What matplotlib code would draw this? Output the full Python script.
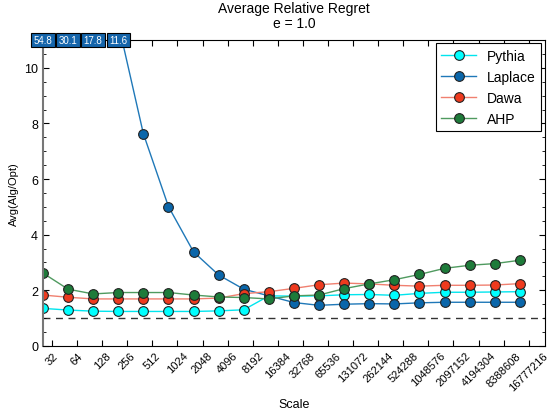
import numpy as np
import matplotlib
matplotlib.use("Agg")
import matplotlib.pyplot as plt
from matplotlib.ticker import FixedLocator, NullLocator, MultipleLocator

plt.rcParams['font.family'] = ['Liberation Sans', 'DejaVu Sans']

# data: 20 scales, points at 25 * 2^k
scale_points = [25 * 2 ** k for k in range(20)]
tick_values = [2 ** k for k in range(5, 25)]
tick_labels = [str(v) for v in tick_values]

pythia = [1.35, 1.29, 1.25, 1.24, 1.24, 1.24, 1.24, 1.26, 1.30, 1.80,
          1.79, 1.80, 1.84, 1.85, 1.82, 1.89, 1.93, 1.93, 1.94, 1.95]
laplace = [54.8, 30.1, 17.8, 11.6, 7.63, 5.01, 3.38, 2.55, 2.04, 1.80,
           1.56, 1.46, 1.50, 1.52, 1.51, 1.55, 1.57, 1.57, 1.57, 1.57]
dawa = [1.83, 1.75, 1.69, 1.69, 1.69, 1.69, 1.69, 1.72, 1.88, 1.95,
        2.07, 2.20, 2.26, 2.23, 2.18, 2.15, 2.18, 2.18, 2.19, 2.24]
ahp = [2.62, 2.04, 1.87, 1.92, 1.92, 1.92, 1.83, 1.76, 1.74, 1.69,
       1.80, 1.83, 2.06, 2.23, 2.38, 2.57, 2.79, 2.90, 2.96, 3.08]

series = [
    ("Pythia", pythia, "#00E5EE", "#00FFFF"),
    ("Laplace", laplace, "#1F78B8", "#0A66AA"),
    ("Dawa", dawa, "#F08070", "#EE3A1E"),
    ("AHP", ahp, "#4F9A5F", "#1E7B3A"),
]

YMAX = 11

fig = plt.figure(figsize=(5.51, 4.14), dpi=100)
ax = fig.add_axes([0.078, 0.162, 0.911, 0.739])

for name, vals, lc, fc in series:
    ax.plot(scale_points, vals, '-', color=lc, lw=1.0, marker='o', ms=7,
            mfc=fc, mec='#222222', mew=0.8, label=name, clip_on=True)

ax.axhline(1.0, color='#333333', ls=(0, (5, 4)), lw=1.0, zorder=1)

# clipped values shown as boxes at the top
for x, v in zip(scale_points, laplace):
    if v > YMAX:
        ax.text(x, YMAX, "%.1f" % v, ha='center', va='center', color='white',
                fontsize=7, zorder=10, clip_on=False,
                bbox=dict(boxstyle='square,pad=0.25', fc='#1565AB', ec='black', lw=0.8))

ax.set_xscale('log')
ax.set_xlim(25, 25 * 2 ** 20)
ax.set_ylim(0, YMAX)
ax.xaxis.set_major_locator(FixedLocator(tick_values))
ax.xaxis.set_minor_locator(NullLocator())
ax.set_xticklabels(tick_labels, rotation=45, ha='center', va='top', fontsize=8)
ax.yaxis.set_major_locator(MultipleLocator(2))
ax.yaxis.set_minor_locator(MultipleLocator(0.5))
ax.tick_params(axis='both', which='both', direction='in', top=True, right=True)
ax.tick_params(axis='x', pad=3)
ax.tick_params(axis='y', labelsize=9)
ax.tick_params(which='major', length=4)
ax.tick_params(which='minor', length=2)
ax.spines['left'].set_color('#777777')
ax.spines['left'].set_linewidth(1.5)

ax.set_xlabel("Scale", fontsize=9, va='center')
ax.xaxis.set_label_coords(0.5, -0.19)
ax.set_ylabel("Avg(Alg/Opt)", fontsize=8)
ax.set_title("Average Relative Regret\ne = 1.0", fontsize=10, pad=9, linespacing=1.1)

leg = ax.legend(loc='upper right', fontsize=10, fancybox=False, framealpha=1,
                edgecolor='black', borderaxespad=0.25, handlelength=2.5)
leg.get_frame().set_linewidth(0.8)

fig.savefig("out.png", dpi=100)
